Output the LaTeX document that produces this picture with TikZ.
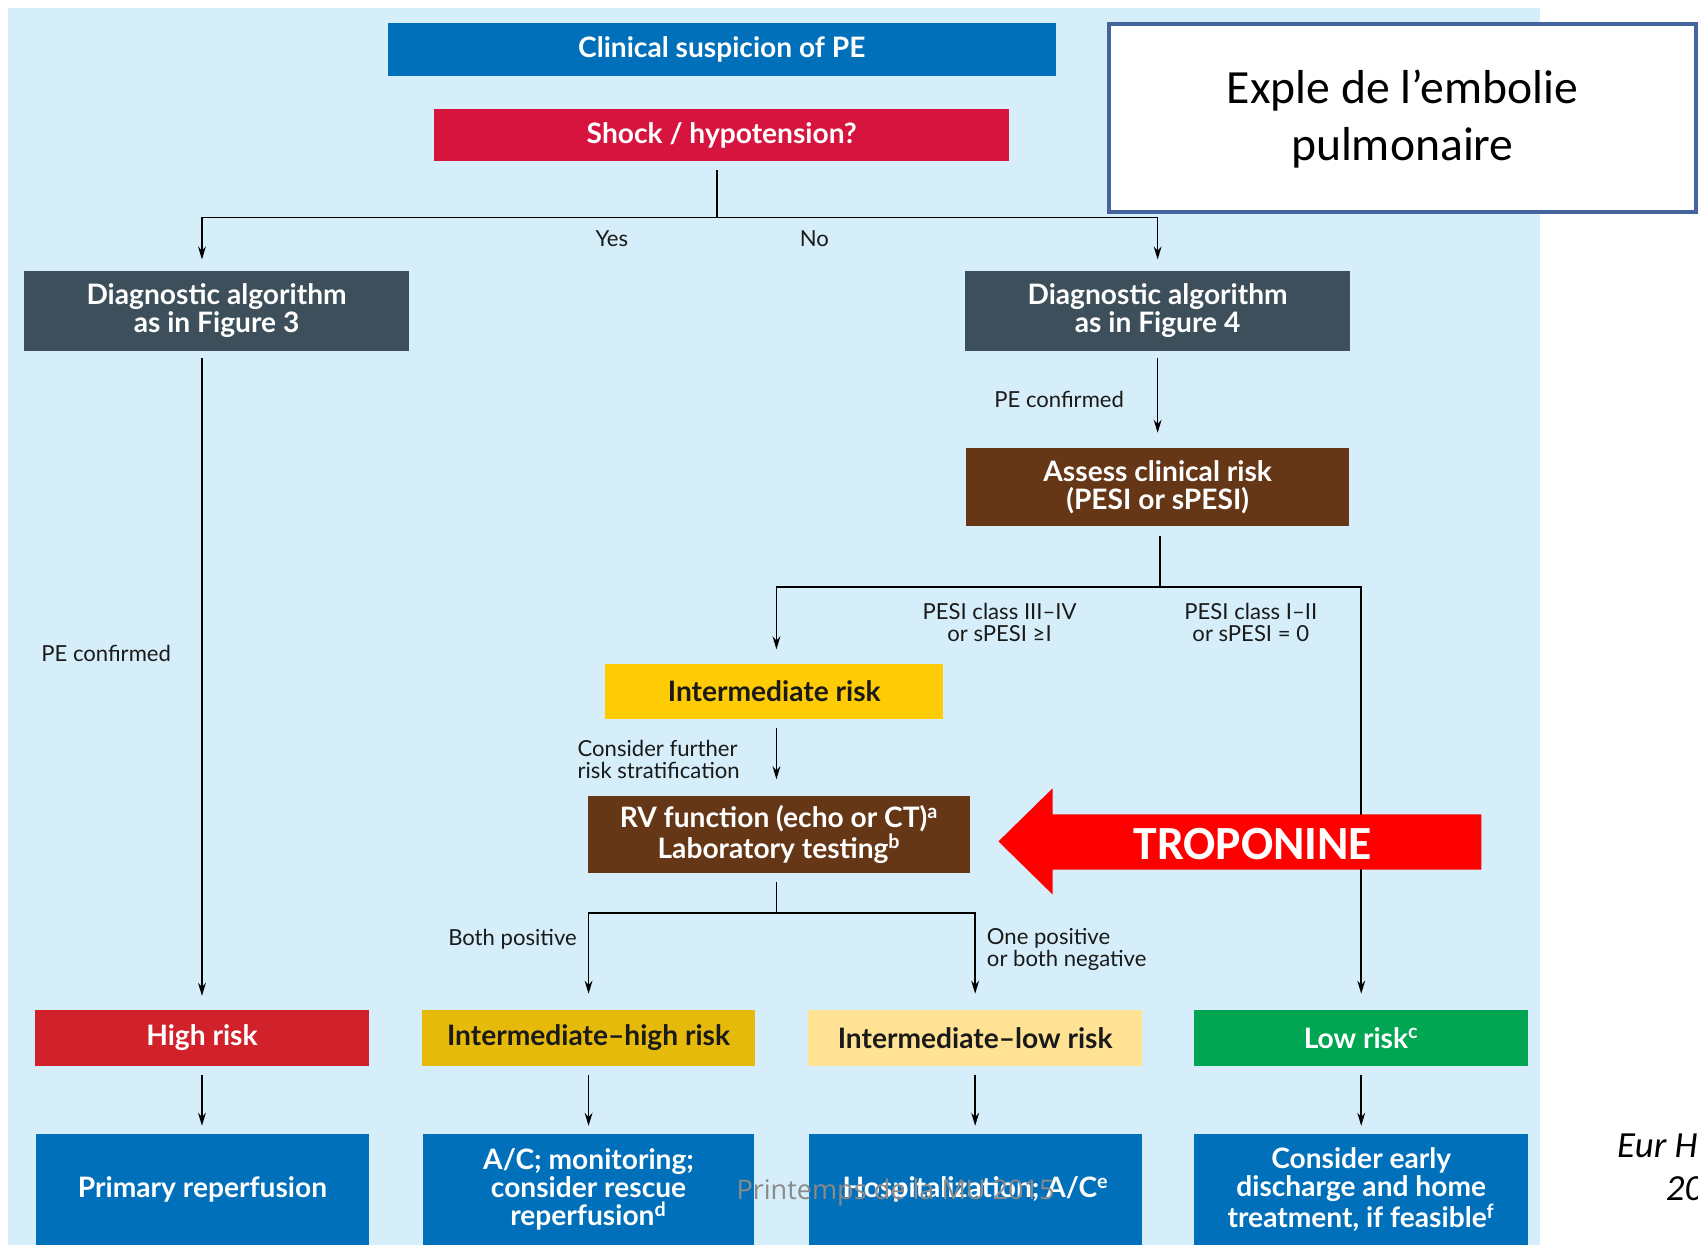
\documentclass[tikz,border=0pt]{standalone}
\usepackage{fontspec}
\setmainfont{Lato}
\newfontfamily\titlefont{Carlito}
\newfontfamily\wmfont{Open Sans}
\usetikzlibrary{arrows.meta,calc}
\definecolor{bgblue}{HTML}{D5EEFA}
\definecolor{pblue}{HTML}{0070BA}
\definecolor{crim}{HTML}{D6143E}
\definecolor{slate}{HTML}{3D4F5A}
\definecolor{brn}{HTML}{663717}
\definecolor{yel}{HTML}{FFCB05}
\definecolor{dyel}{HTML}{E6BA0A}
\definecolor{lyel}{HTML}{FFE294}
\definecolor{hred}{HTML}{D1222B}
\definecolor{grn}{HTML}{00A651}
\definecolor{tborder}{HTML}{44659B}
\definecolor{tred}{HTML}{FF0000}
\definecolor{dtext}{HTML}{1A1A1A}
\definecolor{wm}{HTML}{8A8A8A}
\tikzset{
  box/.style={draw=none, inner sep=0pt, align=center, text=white,
    font=\bfseries\fontsize{13}{13}\selectfont},
  bx/.style 2 args={minimum width={#1*0.5pt}, minimum height={#2*0.5pt}},
  ln/.style={line width=0.7pt, draw=black},
  arr/.style={ln, -{Stealth[length=6pt,width=3.6pt]}},
  lbl/.style={inner sep=0pt, align=center, text=dtext, font=\fontsize{10.2}{10}\selectfont},
}
\begin{document}
\begin{tikzpicture}[x=0.5pt,y=-0.5pt]
\useasboundingbox (0,0) rectangle (1568,1150);
\fill[bgblue] (7,7) rectangle (1422,1150);

% boxes
\node[box,fill=pblue,bx={617}{49}] (clin) at (666.5,45.5) {Clinical suspicion of PE};
\node[box,fill=crim,bx={531}{48}] (shock) at (666.5,125) {Shock / hypotension?};
\node[box,fill=slate,bx={356}{74}] (diagL) at (200,287) {Diagnostic algorithm\\as in Figure 3};
\node[box,fill=slate,bx={356}{74}] (diagR) at (1069,287) {Diagnostic algorithm\\as in Figure 4};
\node[box,fill=brn,bx={354}{72}] (assess) at (1069,450) {Assess clinical risk\\(PESI or sPESI)};
\node[box,fill=yel,text=dtext,bx={312}{51}] (inter) at (715,638.5) {Intermediate risk};
\node[box,fill=brn,bx={353}{71}] (rv) at (719.5,770.5) {RV function (echo or CT)\textsuperscript{a}\\Laboratory testing\textsuperscript{b}};

\node[box,fill=hred,bx={309}{51}] (high) at (186.5,958.5) {High risk};
\node[box,fill=dyel,text=dtext,bx={307}{51}] (ihigh) at (543.5,958.5) {Intermediate--high risk};
\node[box,fill=lyel,text=dtext,bx={309}{51}] (ilow) at (900.5,958.5) {Intermediate--low risk};
\node[box,fill=grn,bx={308}{51}] (low) at (1257,958.5) {Low risk\textsuperscript{c}};

\node[box,fill=pblue,bx={308}{103}] (b1) at (187,1098.5) {Primary reperfusion};
\node[box,fill=pblue,bx={305}{103}] (b2) at (543.5,1098.5) {A/C; monitoring;\\consider rescue\\reperfusion\textsuperscript{d}};
\node[box,fill=pblue,bx={308}{103}] (b3) at (901,1098.5) {Hospitalization; A/C\textsuperscript{e}};
\node[box,fill=pblue,bx={308}{103}] (b4) at (1257,1098.5) {Consider early\\discharge and home\\treatment, if feasible\textsuperscript{f}};

% connectors
\coordinate (j1) at (662,201);
\draw[ln] ([yshift=-4pt]shock.south -| j1) -- (j1);
\draw[arr] (j1) -| ([yshift=5pt]diagL.north -| high.north);
\draw[arr] (j1) -| ([yshift=5pt]diagR.north);
\node[lbl] (yes) at (565,220) {Yes};
\node[lbl] (no) at (752,220) {No};

\draw[arr] ([yshift=-3pt]diagL.south -| high.north) -- ([yshift=6.5pt]high.north);
\node[lbl] (pec1) at (98,603) {PE confirmed};
\draw[arr] ([yshift=-3pt]diagR.south) -- ([yshift=7pt]assess.north);
\node[lbl] (pec2) at (978,369) {PE confirmed};

\coordinate (j2) at (1071,542);
\coordinate (j3) at (717,843);
\draw[ln] ([yshift=-4.5pt]assess.south -| j2) -- (j2);
\draw[arr] (j2) -| ([yshift=6.5pt]inter.north -| j3);
\draw[arr] (j2) -| ([yshift=7.5pt]low.north);
\node[lbl] (pesi1) at (923,575) {PESI class III--IV\\or sPESI ≥I};
\node[lbl] (pesi2) at (1155,575) {PESI class I--II\\or sPESI = 0};

\draw[arr] ([yshift=-4pt]inter.south -| j3) -- ([yshift=7.5pt]rv.north -| j3);
\node[lbl,align=left,anchor=west] (cons) at (533,701) {Consider further\\risk stratification};

\draw[ln] ([yshift=-4pt]rv.south -| j3) -- (j3);
\draw[arr] (j3) -| ([yshift=7.5pt]ihigh.north);
\draw[arr] (j3) -| ([yshift=7.5pt]ilow.north);
\node[lbl,anchor=east] (both) at (533,867) {Both positive};
\node[lbl,align=left,anchor=west] (one) at (911,877) {One positive\\or both negative};

\draw[arr] ([yshift=-4pt]high.south) -- ([yshift=3.5pt]b1.north -| high.south);
\draw[arr] ([yshift=-4pt]ihigh.south) -- ([yshift=3.5pt]b2.north -| ihigh.south);
\draw[arr] ([yshift=-4pt]ilow.south) -- ([yshift=3.5pt]b3.north -| ilow.south);
\draw[arr] ([yshift=-4pt]low.south) -- ([yshift=3.5pt]b4.north -| low.south);

% title box
\draw[tborder, line width=2pt, fill=white] (1024,22) rectangle (1566,196);
\node[inner sep=0pt, align=center, font=\titlefont\fontsize{22}{26.5}\selectfont] (title) at (1295,110) {Exple de l’embolie\\pulmonaire};

% troponine arrow
\fill[tred] (922,777) -- (972,728) -- (972,752) -- (1368,752) -- (1368,803) -- (972,803) -- (972,826) -- cycle;
\node[inner sep=0pt, text=white, font=\titlefont\bfseries\fontsize{22}{24}\selectfont] (trop) at (1157,779) {TROPONINE};

% citation
\node[inner sep=0pt, anchor=base west, font=\titlefont\itshape\fontsize{17}{20}\selectfont] (eur) at (1493,1069) {Eur H};
\node[inner sep=0pt, anchor=base west, font=\titlefont\itshape\fontsize{17}{20}\selectfont] (yr) at (1538,1109) {20};

% watermark
\node[inner sep=0pt, text=wm, font=\wmfont\fontsize{12.5}{14}\selectfont] (wmk) at (827,1101) {Printemps de la MU 2015};
\end{tikzpicture}
\end{document}
